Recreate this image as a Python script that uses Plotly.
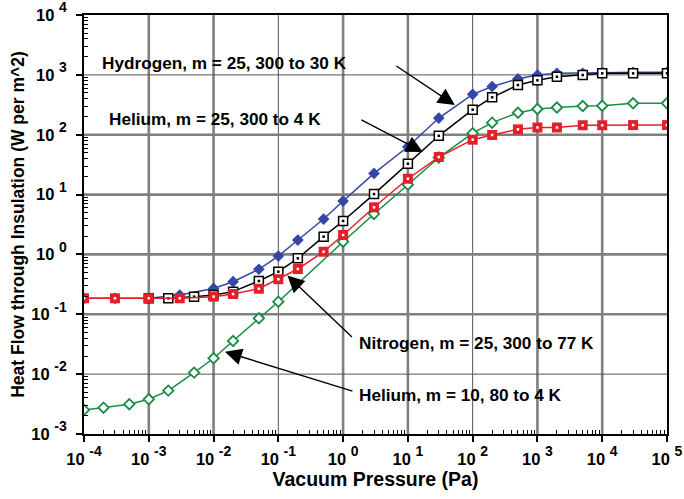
import plotly.graph_objects as go

# ---------------- data ----------------
x_hydrogen = [1e-4, 3e-4, 1e-3, 3e-3, 1e-2, 2e-2, 5e-2, 0.1, 0.2, 0.5, 1, 3, 10, 30, 100,
              200, 500, 1000, 2000, 5000, 1e4, 3e4, 1e5]
y_hydrogen = [0.185, 0.185, 0.185, 0.21, 0.27, 0.35, 0.565, 0.94, 1.74, 3.9, 7.8, 22.6, 63, 190, 473,
              640, 860, 995, 1060, 1060, 1087, 1104, 1104]

x_helium25 = [1e-3, 2e-3, 5e-3, 1e-2, 2e-2, 5e-2, 0.1, 0.2, 0.5, 1, 3, 10, 30, 100,
              200, 500, 1000, 2000, 5000, 1e4, 3e4, 1e5]
y_helium25 = [0.185, 0.185, 0.197, 0.21, 0.239, 0.36, 0.515, 0.86, 1.98, 3.62, 10.2, 32.8, 96, 262,
              422, 677, 811, 931, 995, 1060, 1060, 1060]

x_nitrogen = [1e-4, 3e-4, 1e-3, 3e-3, 1e-2, 2e-2, 5e-2, 0.1, 0.2, 0.5, 1, 3, 10, 30, 100,
              200, 500, 1000, 2000, 5000, 1e4, 3e4, 1e5]
y_nitrogen = [0.185, 0.185, 0.185, 0.185, 0.197, 0.218, 0.267, 0.385, 0.571, 1.11, 2.11, 6.13, 18.4, 42.4, 82.6,
              98.9, 123, 132, 132, 144, 144, 145, 145]

x_helium10 = [1e-4, 2e-4, 5e-4, 1e-3, 2e-3, 5e-3, 1e-2, 2e-2, 5e-2, 0.1, 1, 3, 10, 30, 100,
              200, 500, 1000, 2000, 5000, 1e4, 3e4, 1e5]
y_helium10 = [0.00252, 0.00275, 0.00314, 0.0038, 0.0053, 0.0106, 0.0184, 0.0358, 0.0857, 0.162, 1.63, 4.74, 14.6, 41.6, 106,
              159, 233, 269, 285, 302, 305, 335, 335]

x_exponents = [-4, -3, -2, -1, 0, 1, 2, 3, 4, 5]
y_exponents = [-3, -2, -1, 0, 1, 2, 3, 4]

labels = [
    ("Hydrogen, m = 25, 300 to 30 K", (-3.753, 3.198), (1.725, 2.497), (0.799, 3.165)),
    ("Helium, m = 25, 300 to 4 K", (-3.645, 2.263), (1.231, 1.711), (0.259, 2.263)),
    ("Nitrogen, m = 25, 300 to 77 K", (0.213, -1.479), (-0.860, -0.352), (0.159, -1.404)),
    ("Helium, m = 10, 80 to 4 K", (0.213, -2.348), (-1.824, -1.625), (0.167, -2.293)),
]

BLUE = "#3447A6"
RED = "#E3202A"
GREEN = "#1A8C45"
FONT = "Liberation Sans, Arial, sans-serif"


def tick_label(e):
    return f"<b>10 <span style='font-size:20px'><sup>{e}</sup></span></b>"


fig = go.Figure()

# Hydrogen (blue filled diamonds)
fig.add_trace(go.Scatter(x=x_hydrogen, y=y_hydrogen, mode="lines+markers",
                         line=dict(color=BLUE, width=1.5),
                         marker=dict(symbol="diamond", size=9, color=BLUE, line=dict(width=0)),
                         showlegend=False))
# Helium m=25 (open black squares with dot)
fig.add_trace(go.Scatter(x=x_helium25, y=y_helium25, mode="lines+markers",
                         line=dict(color="black", width=1.5),
                         marker=dict(symbol="square", size=9, color="white",
                                     line=dict(color="black", width=1.5)),
                         showlegend=False))
fig.add_trace(go.Scatter(x=x_helium25, y=y_helium25, mode="markers",
                         marker=dict(symbol="square", size=2.5, color="black", line=dict(width=0)),
                         showlegend=False, hoverinfo="skip"))
# Helium m=10 (open green diamonds)
fig.add_trace(go.Scatter(x=x_helium10, y=y_helium10, mode="lines+markers",
                         line=dict(color=GREEN, width=1.5),
                         marker=dict(symbol="diamond", size=8, color="white",
                                     line=dict(color=GREEN, width=1.8)),
                         showlegend=False))
# Nitrogen (red filled squares with white dot)
fig.add_trace(go.Scatter(x=x_nitrogen, y=y_nitrogen, mode="lines+markers",
                         line=dict(color=RED, width=1.5),
                         marker=dict(symbol="square", size=10, color=RED, line=dict(width=0)),
                         showlegend=False))
fig.add_trace(go.Scatter(x=x_nitrogen, y=y_nitrogen, mode="markers",
                         marker=dict(symbol="square", size=2.5, color="white", line=dict(width=0)),
                         showlegend=False, hoverinfo="skip"))

# grid lines (decades)
shapes = []
thin_x = {-1, 2}
thin_y = {-2, 3}
for e in x_exponents[1:-1]:
    thin = e in thin_x
    shapes.append(dict(type="line", xref="x", yref="paper", x0=10 ** e, x1=10 ** e, y0=0, y1=1,
                       line=dict(color="#555555" if thin else "#808080", width=1 if thin else 2.6),
                       layer="below"))
for e in y_exponents[1:-1]:
    thin = e in thin_y
    shapes.append(dict(type="line", xref="paper", yref="y", x0=0, x1=1, y0=10 ** e, y1=10 ** e,
                       line=dict(color="#555555" if thin else "#808080", width=1 if thin else 2.6),
                       layer="below"))

annotations = []
for text, (tx, ty), (hx, hy), (sx, sy) in labels:
    annotations.append(dict(x=tx, y=ty, xref="x", yref="y", text=f"<b>{text}</b>",
                            showarrow=False, xanchor="left", yanchor="middle",
                            font=dict(family=FONT, size=17.2, color="black")))
    annotations.append(dict(x=hx, y=hy, ax=sx, ay=sy, xref="x", yref="y", axref="x", ayref="y",
                            text="", showarrow=True, arrowhead=2, arrowsize=2.4, arrowwidth=1.4,
                            arrowcolor="black"))

minor_x = [k * 10 ** e for e in x_exponents[:-1] for k in range(2, 10)]
minor_y = [k * 10 ** e for e in y_exponents[:-1] for k in range(2, 10)]

fig.update_layout(
    width=684, height=499,
    margin=dict(l=84, r=17, t=15, b=65),
    paper_bgcolor="white", plot_bgcolor="white",
    font=dict(family=FONT, color="black"),
    shapes=shapes, annotations=annotations,
    xaxis=dict(type="log", range=[-4.0005, 5.0005], showgrid=False, zeroline=False,
               automargin=False, ticklabeloverflow="allow",
               showline=True, linecolor="black", linewidth=2, mirror=True,
               tickmode="array", tickvals=[10 ** e for e in x_exponents],
               ticktext=[tick_label(e) for e in x_exponents],
               ticks="outside", ticklen=6, tickwidth=2, tickcolor="black",
               ticklabelstandoff=3,
               tickfont=dict(family=FONT, size=16.5, color="black"),
               minor=dict(tickmode="array", tickvals=minor_x, ticks="inside", ticklen=4,
                          tickwidth=1, tickcolor="black", showgrid=False),
               title=dict(text="<b>Vacuum Pressure (Pa)</b>", font=dict(family=FONT, size=19.5),
                          standoff=2)),
    yaxis=dict(type="log", range=[-3.0005, 4.0005], showgrid=False, zeroline=False,
               automargin=False, ticklabeloverflow="allow",
               showline=True, linecolor="black", linewidth=2, mirror=True,
               tickmode="array", tickvals=[10 ** e for e in y_exponents],
               ticktext=[tick_label(e) for e in y_exponents],
               ticks="outside", ticklen=6, tickwidth=2, tickcolor="black",
               ticklabelstandoff=6,
               tickfont=dict(family=FONT, size=16.5, color="black"),
               minor=dict(tickmode="array", tickvals=minor_y, ticks="inside", ticklen=4,
                          tickwidth=1, tickcolor="black", showgrid=False),
               title=dict(text="<b>Heat Flow through Insulation (W per m^2)</b>",
                          font=dict(family=FONT, size=17.5), standoff=2)),
)

fig.write_html("out.html", config={"displayModeBar": False},
               post_script="document.body.style.margin='0';document.body.style.padding='0';")
